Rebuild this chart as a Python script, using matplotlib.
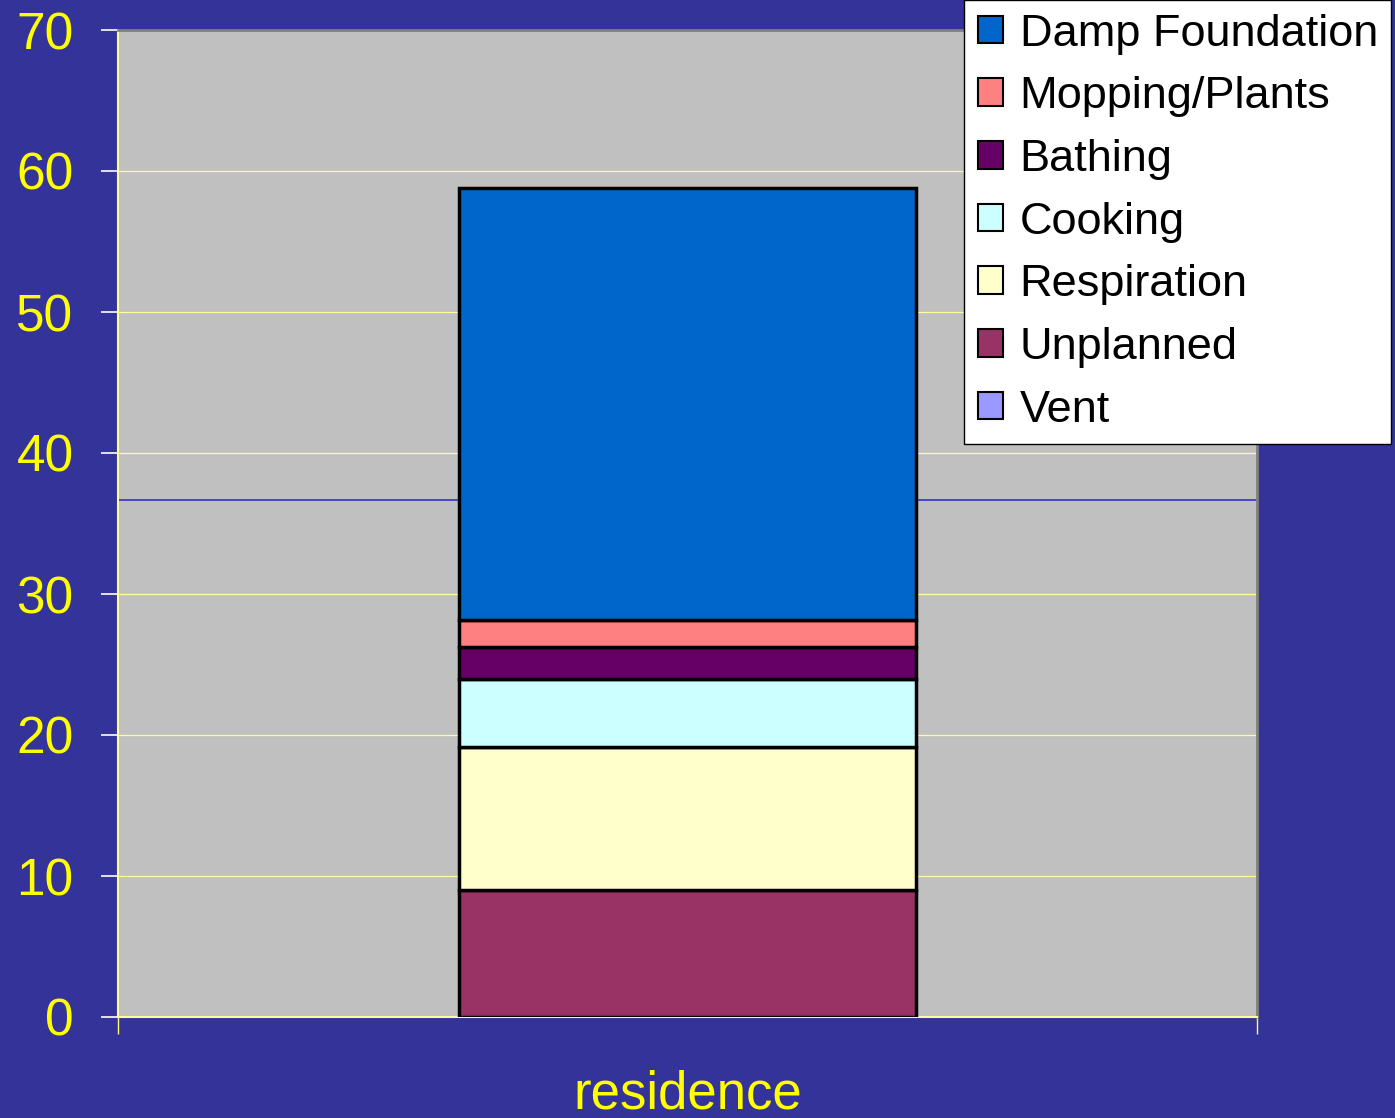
import matplotlib
matplotlib.use("Agg")
import matplotlib.pyplot as plt
from matplotlib.patches import Patch

plt.rcParams['font.family'] = ['Liberation Sans', 'DejaVu Sans']

# stacked series, bottom to top
series = ["Vent", "Unplanned", "Respiration", "Cooking", "Bathing", "Mopping/Plants", "Damp Foundation"]
values = [0.0, 9.0, 10.15, 4.8, 2.3, 1.9, 30.65]
colors = ["#9999ff", "#993366", "#ffffcc", "#ccffff", "#660066", "#ff8080", "#0066cc"]
category = ["residence"]
yticks = [0, 10, 20, 30, 40, 50, 60, 70]
marker_line = 36.7

fig = plt.figure(figsize=(13.95, 11.18), dpi=100)
fig.patch.set_facecolor("#333399")
ax = fig.add_axes([118 / 1395, 1 - 1017 / 1118, 1139 / 1395, 987 / 1118])
ax.set_facecolor("#c0c0c0")

ax.axhline(marker_line, color="#3333cc", linewidth=1.2, zorder=1)

bottom = 0.0
for name, val, col in zip(series, values, colors):
    ax.bar(0, val, width=0.401, bottom=bottom, color=col, edgecolor="black",
           linewidth=2.5, zorder=3)
    bottom += val

ax.set_xlim(-0.5, 0.5)
ax.set_ylim(0, 70)
ax.set_yticks(yticks)
ax.set_yticklabels([str(t) for t in yticks])
ax.grid(axis="y", color="#ffff99", linewidth=0.9, zorder=0)
ax.set_axisbelow(True)

ax.set_xticks([0])
ax.set_xticklabels(category)
ax.set_xticks([-0.5, 0.5], minor=True)
ax.tick_params(axis="x", which="major", length=0, pad=38, labelsize=38, labelcolor="#ffff00")
ax.tick_params(axis="x", which="minor", length=12, color="#ffff66", width=1)
ax.tick_params(axis="y", length=12, width=1.2, color="#ffffff", pad=20,
               labelsize=37, labelcolor="#ffff00")

for side in ["left", "bottom"]:
    ax.spines[side].set_color("#ffff99")
    ax.spines[side].set_linewidth(1.5)
for side in ["top", "right"]:
    ax.spines[side].set_color("#808080")
    ax.spines[side].set_linewidth(2)

handles = [Patch(facecolor=c, edgecolor="black", linewidth=1.5, label=n)
           for n, c in zip(series, colors)][::-1]
leg = fig.legend(handles=handles, loc="upper left", bbox_to_anchor=(964 / 1395, 1.0),
                 borderaxespad=0, fontsize=32.5, frameon=True, fancybox=False,
                 edgecolor="black", framealpha=1, handlelength=0.57, handleheight=0.57,
                 handletextpad=0.36, labelspacing=0.48, borderpad=0.3)
leg.get_frame().set_linewidth(1)

fig.savefig("out.png", dpi=100, facecolor=fig.get_facecolor())
